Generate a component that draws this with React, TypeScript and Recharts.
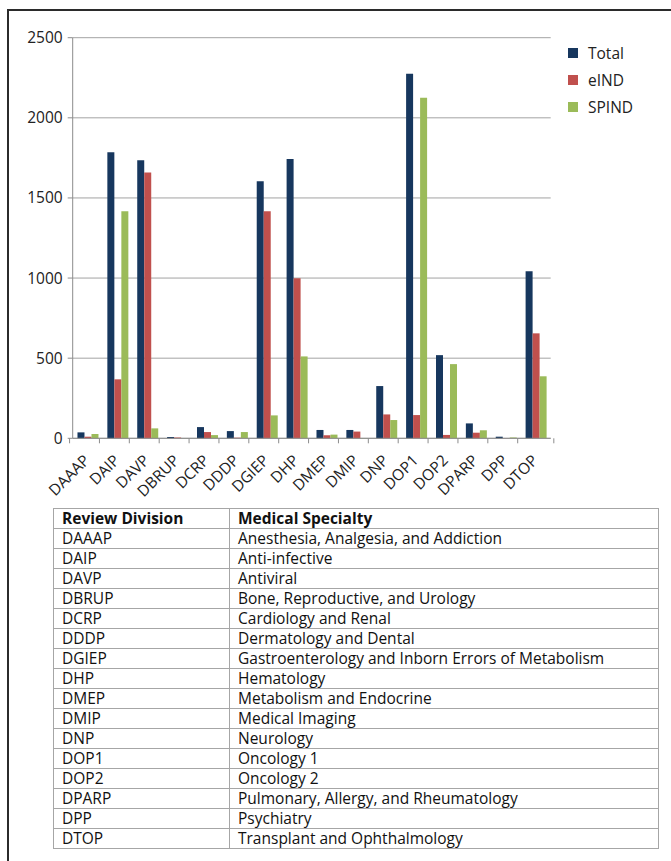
import { BarChart, Bar, XAxis, YAxis, CartesianGrid, Legend } from 'recharts';

const divisions = [
  'DAAAP', 'DAIP', 'DAVP', 'DBRUP', 'DCRP', 'DDDP', 'DGIEP', 'DHP',
  'DMEP', 'DMIP', 'DNP', 'DOP1', 'DOP2', 'DPARP', 'DPP', 'DTOP',
];
const totalValues = [37, 1785, 1735, 8, 70, 45, 1604, 1743, 52, 52, 326, 2275, 519, 93, 10, 1043];
const eindValues = [10, 368, 1658, 5, 39, 4, 1417, 999, 19, 42, 149, 145, 21, 35, 1, 655];
const spindValues = [27, 1417, 62, 1, 20, 39, 143, 511, 23, 2, 114, 2126, 463, 50, 5, 387];
const yTicks = [0, 500, 1000, 1500, 2000, 2500];

const specialties = [
  'Anesthesia, Analgesia, and Addiction',
  'Anti-infective',
  'Antiviral',
  'Bone, Reproductive, and Urology',
  'Cardiology and Renal',
  'Dermatology and Dental',
  'Gastroenterology and Inborn Errors of Metabolism',
  'Hematology',
  'Metabolism and Endocrine',
  'Medical Imaging',
  'Neurology',
  'Oncology 1',
  'Oncology 2',
  'Pulmonary, Allergy, and Rheumatology',
  'Psychiatry',
  'Transplant and Ophthalmology',
];

const series = [
  { key: 'Total', color: '#17375E' },
  { key: 'eIND', color: '#C0504D' },
  { key: 'SPIND', color: '#9BBB59' },
];

const data = divisions.map((division, i) => ({
  division,
  Total: totalValues[i],
  eIND: eindValues[i],
  SPIND: spindValues[i],
}));

const FONT = '"Open Sans", Lato, sans-serif';
const CHART_W = 671;
const CHART_H = 500;
const Y_AXIS_W = 72.7;
const MARGIN = { top: 37.7, right: 20.3, bottom: 11.7, left: 0 };
const BAND = (CHART_W - Y_AXIS_W - MARGIN.right - MARGIN.left) / divisions.length;

function DivisionTick(props: any) {
  const { x, y, payload, index } = props;
  const tx = x + 3;
  const ty = y + 23;
  return (
    <g>
      <line x1={x - BAND / 2} y1={y} x2={x - BAND / 2} y2={y + 5} stroke="#8c8c8c" />
      {index === divisions.length - 1 && (
        <line x1={x + BAND / 2} y1={y} x2={x + BAND / 2} y2={y + 5} stroke="#8c8c8c" />
      )}
      <text
        x={tx}
        y={ty}
        textAnchor="end"
        transform={`rotate(-45 ${tx} ${ty})`}
        fontSize={15.5}
        fontFamily={FONT}
        fill="#222"
      >
        {payload.value}
      </text>
    </g>
  );
}

function LegendList(props: any) {
  const items = series
    .map((s) => (props.payload || []).find((p: any) => p.value === s.key))
    .filter(Boolean);
  return (
    <div style={{ fontFamily: FONT, fontSize: 15.5, color: '#222' }}>
      {items.map((item: any) => (
        <div key={item.value} style={{ height: 27, display: 'flex', alignItems: 'center' }}>
          <span style={{ width: 10, height: 10, background: item.color, marginRight: 10, display: 'inline-block' }} />
          <span>{item.value}</span>
        </div>
      ))}
    </div>
  );
}

const cell: React.CSSProperties = {
  border: '1px solid #a6a6a6',
  padding: '0 8px',
  height: 19,
  lineHeight: '19px',
  whiteSpace: 'nowrap',
  textAlign: 'left',
};

export default function App() {
  return (
    <div style={{ position: 'fixed', left: 0, top: 0, width: 671, height: 861, overflow: 'hidden', background: '#fff' }}>
      <div
        style={{
          position: 'absolute',
          left: 7,
          top: 9,
          width: 720,
          height: 920,
          borderLeft: '2px solid #2b2b2b',
          borderTop: '2px solid #2b2b2b',
        }}
      />
      <div style={{ position: 'absolute', left: 0, top: 0 }}>
        <BarChart
          width={CHART_W}
          height={CHART_H}
          data={data}
          margin={MARGIN}
          barCategoryGap="16%"
          barGap={0}
        >
          <CartesianGrid vertical={false} stroke="#a3a3a3" />
          <XAxis
            dataKey="division"
            interval={0}
            height={50}
            tickSize={0}
            tickMargin={0}
            tickLine={false}
            axisLine={{ stroke: '#8c8c8c' }}
            tick={<DivisionTick />}
          />
          <YAxis
            width={Y_AXIS_W}
            domain={[0, 2500]}
            ticks={yTicks}
            interval={0}
            tickSize={5}
            tickMargin={5}
            axisLine={{ stroke: '#8c8c8c' }}
            tickLine={{ stroke: '#8c8c8c' }}
            tick={{ fontSize: 15.5, fontFamily: FONT, fill: '#222' }}
          />
          <Legend
            layout="horizontal"
            verticalAlign="middle"
            align="right"
            content={<LegendList />}
            wrapperStyle={{ position: 'absolute', left: 568, top: 39, right: 'auto', bottom: 'auto', width: 100 }}
          />
          {series.map((s) => (
            <Bar key={s.key} dataKey={s.key} fill={s.color} isAnimationActive={false} />
          ))}
        </BarChart>
      </div>
      <table
        style={{
          position: 'absolute',
          left: 53,
          top: 508,
          width: 606,
          borderCollapse: 'collapse',
          fontFamily: FONT,
          fontSize: 15.5,
          color: '#111',
        }}
      >
        <tbody>
          <tr>
            <th style={{ ...cell, width: 159, fontWeight: 700 }}>Review Division</th>
            <th style={{ ...cell, fontWeight: 700 }}>Medical Specialty</th>
          </tr>
          {divisions.map((d, i) => (
            <tr key={d}>
              <td style={cell}>{d}</td>
              <td style={cell}>{specialties[i]}</td>
            </tr>
          ))}
        </tbody>
      </table>
    </div>
  );
}
